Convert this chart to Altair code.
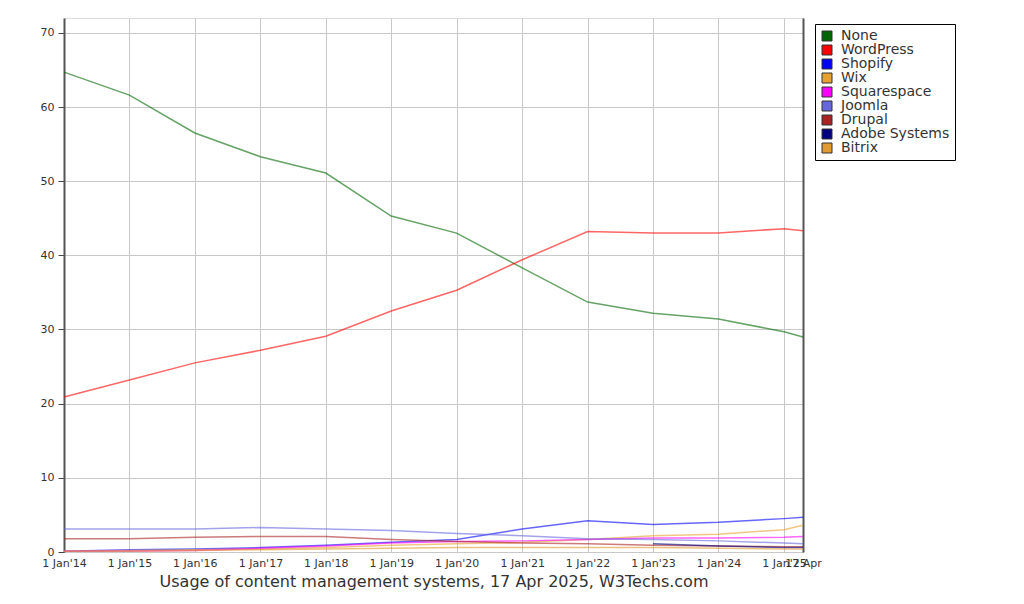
import altair as alt
import pandas as pd

dates = ["2014-01-01", "2015-01-01", "2016-01-01", "2017-01-01", "2018-01-01",
         "2019-01-01", "2020-01-01", "2021-01-01", "2022-01-01", "2023-01-01",
         "2024-01-01", "2025-01-01", "2025-04-17"]

systems = ["None", "WordPress", "Shopify", "Wix", "Squarespace", "Joomla",
           "Drupal", "Adobe Systems", "Bitrix"]
colors = ["#006600", "#ff0000", "#0000ff", "#e8a030", "#ff00ff", "#6666dd",
          "#aa2222", "#000080", "#e09a30"]

none_v = [64.7, 61.6, 56.5, 53.3, 51.1, 45.3, 43.0, 38.3, 33.7, 32.2, 31.4, 29.7, 29.0]
wordpress = [20.9, 23.2, 25.5, 27.2, 29.1, 32.5, 35.3, 39.4, 43.2, 43.0, 43.0, 43.6, 43.3]
shopify = [0.1, 0.3, 0.4, 0.6, 0.9, 1.3, 1.7, 3.1, 4.2, 3.7, 4.0, 4.5, 4.7]
wix = [0.1, 0.2, 0.3, 0.4, 0.6, 0.9, 1.1, 1.3, 1.7, 2.2, 2.4, 3.0, 3.6]
squarespace = [0.1, 0.1, 0.2, 0.5, 0.8, 1.2, 1.4, 1.5, 1.7, 1.9, 1.9, 2.0, 2.1]
joomla = [3.1, 3.1, 3.1, 3.3, 3.1, 2.9, 2.5, 2.2, 1.8, 1.7, 1.5, 1.2, 1.1]
drupal = [1.8, 1.8, 2.0, 2.1, 2.1, 1.7, 1.4, 1.2, 1.1, 0.9, 0.8, 0.7, 0.7]
adobe = [None, None, None, None, None, None, None, None, None, 1.1, 0.8, 0.6, 0.6]
bitrix = [0.1, 0.1, 0.2, 0.3, 0.4, 0.5, 0.6, 0.6, 0.6, 0.6, 0.5, 0.4, 0.4]

series = [none_v, wordpress, shopify, wix, squarespace, joomla, drupal, adobe, bitrix]

rows = []
for name, vals in zip(systems, series):
    for d, v in zip(dates, vals):
        if v is not None:
            rows.append({"date": d, "system": name, "line_system": name, "share": v})
df = pd.DataFrame(rows)

tick_dates = [alt.DateTime(year=int(d[:4]), month=int(d[5:7]), date=int(d[8:10]), utc=True)
              for d in dates]

font = "DejaVu Sans"

x_scale = alt.Scale(type="utc", domain=[tick_dates[0], tick_dates[-1]])
y_scale = alt.Scale(domain=[0, 72], nice=False)

x_enc = alt.X(
    "date:T",
    scale=x_scale,
    axis=alt.Axis(
        values=tick_dates,
        labelExpr="utcFormat(datum.value, '%m') == '01' ? utcFormat(datum.value, \"1 Jan'%y\") : '17 Apr'",
        title="Usage of content management systems, 17 Apr 2025, W3Techs.com",
        titleFont=font, titleFontSize=16, titleFontWeight="normal", titleColor="#333333",
        titlePadding=5,
        labelFont=font, labelFontSize=11, labelColor="#333333", labelPadding=5,
        labelOverlap=False, labelFlush=False,
        grid=True, gridColor="#c8c8c8", gridWidth=1,
        ticks=False, domain=False,
    ),
)

lines = alt.Chart(df).mark_line(strokeWidth=1.5, strokeOpacity=0.6).encode(
    x=x_enc,
    y=alt.Y(
        "share:Q",
        scale=y_scale,
        axis=alt.Axis(
            values=[0, 10, 20, 30, 40, 50, 60, 70], title=None,
            labelFont=font, labelFontSize=11, labelColor="#333333",
            grid=True, gridColor="#c8c8c8", gridWidth=1,
            tickColor="#444444", tickSize=6, labelPadding=4,
            domainColor="#555555", domainWidth=2,
        ),
    ),
    stroke=alt.Stroke("line_system:N", scale=alt.Scale(range=colors), sort=systems, legend=None),
    detail="line_system:N",
)

legend_layer = alt.Chart(df).mark_square(opacity=0.001, filled=True).encode(
    x=alt.X("date:T", scale=x_scale),
    y=alt.Y("share:Q", scale=y_scale,
            axis=alt.Axis(orient="right", labels=False, ticks=False, grid=False,
                          title=None, domainColor="#555555", domainWidth=2)),
    color=alt.Color(
        "system:N",
        scale=alt.Scale(domain=systems, range=colors),
        sort=systems,
        legend=alt.Legend(
            title=None, orient="none", legendX=751, legendY=6,
            fillColor="white", strokeColor="#000000", padding=5,
            labelFont=font, labelFontSize=14, labelColor="#333333",
            symbolType="square", symbolSize=100, symbolStrokeColor="#333333",
            symbolStrokeWidth=1, symbolOpacity=1,
            rowPadding=-1, labelOffset=7,
        ),
    ),
)

chart = alt.layer(lines, legend_layer).resolve_axis(y="independent").properties(
    width=739, height=534,
    autosize=alt.AutoSizeParams(type="none"),
    padding={"left": 56, "top": 10, "right": 200, "bottom": 50},
).configure_view(fill="#e6e6fa", stroke=None).configure(background="white")

chart.save("out.html", embed_options={"renderer": "svg", "actions": False})
